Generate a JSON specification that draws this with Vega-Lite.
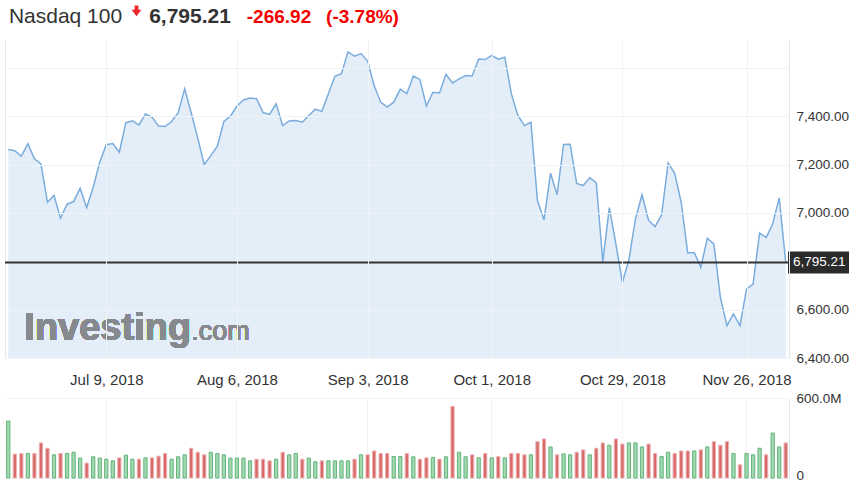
{
  "$schema": "https://vega.github.io/schema/vega-lite/v6.json",
  "padding": {"left": 4, "top": 0, "right": 0, "bottom": 0},
  "background": "white",
  "config": {
    "view": {"stroke": null},
    "font": "Liberation Sans",
    "axis": {"labelFont": "Liberation Sans", "labelFontSize": 13.5, "labelColor": "#333333", "title": null}
  },
  "datasets": {
    "px": [
      {"date":"2018-06-15","close":7262,"volume":427000000,"dir":"up"},
      {"date":"2018-06-18","close":7257,"volume":179000000,"dir":"down"},
      {"date":"2018-06-19","close":7235,"volume":184000000,"dir":"down"},
      {"date":"2018-06-20","close":7286,"volume":184000000,"dir":"up"},
      {"date":"2018-06-21","close":7224,"volume":184000000,"dir":"down"},
      {"date":"2018-06-22","close":7203,"volume":263000000,"dir":"down"},
      {"date":"2018-06-25","close":7044,"volume":223000000,"dir":"down"},
      {"date":"2018-06-26","close":7072,"volume":174000000,"dir":"up"},
      {"date":"2018-06-27","close":6978,"volume":184000000,"dir":"down"},
      {"date":"2018-06-28","close":7036,"volume":184000000,"dir":"up"},
      {"date":"2018-06-29","close":7047,"volume":193000000,"dir":"up"},
      {"date":"2018-07-02","close":7102,"volume":149000000,"dir":"up"},
      {"date":"2018-07-03","close":7022,"volume":112000000,"dir":"down"},
      {"date":"2018-07-05","close":7106,"volume":159000000,"dir":"up"},
      {"date":"2018-07-06","close":7210,"volume":149000000,"dir":"up"},
      {"date":"2018-07-09","close":7282,"volume":141000000,"dir":"up"},
      {"date":"2018-07-10","close":7287,"volume":129000000,"dir":"up"},
      {"date":"2018-07-11","close":7251,"volume":151000000,"dir":"down"},
      {"date":"2018-07-12","close":7373,"volume":171000000,"dir":"up"},
      {"date":"2018-07-13","close":7381,"volume":141000000,"dir":"up"},
      {"date":"2018-07-16","close":7364,"volume":141000000,"dir":"down"},
      {"date":"2018-07-17","close":7409,"volume":151000000,"dir":"up"},
      {"date":"2018-07-18","close":7396,"volume":151000000,"dir":"down"},
      {"date":"2018-07-19","close":7359,"volume":164000000,"dir":"down"},
      {"date":"2018-07-20","close":7357,"volume":184000000,"dir":"down"},
      {"date":"2018-07-23","close":7378,"volume":141000000,"dir":"up"},
      {"date":"2018-07-24","close":7413,"volume":159000000,"dir":"up"},
      {"date":"2018-07-25","close":7513,"volume":174000000,"dir":"up"},
      {"date":"2018-07-26","close":7414,"volume":223000000,"dir":"down"},
      {"date":"2018-07-27","close":7309,"volume":193000000,"dir":"down"},
      {"date":"2018-07-30","close":7199,"volume":174000000,"dir":"down"},
      {"date":"2018-07-31","close":7237,"volume":193000000,"dir":"up"},
      {"date":"2018-08-01","close":7276,"volume":184000000,"dir":"up"},
      {"date":"2018-08-02","close":7378,"volume":174000000,"dir":"up"},
      {"date":"2018-08-03","close":7400,"volume":149000000,"dir":"up"},
      {"date":"2018-08-06","close":7442,"volume":149000000,"dir":"up"},
      {"date":"2018-08-07","close":7467,"volume":149000000,"dir":"up"},
      {"date":"2018-08-08","close":7475,"volume":129000000,"dir":"up"},
      {"date":"2018-08-09","close":7472,"volume":141000000,"dir":"down"},
      {"date":"2018-08-10","close":7415,"volume":141000000,"dir":"down"},
      {"date":"2018-08-13","close":7407,"volume":129000000,"dir":"down"},
      {"date":"2018-08-14","close":7451,"volume":141000000,"dir":"up"},
      {"date":"2018-08-15","close":7361,"volume":193000000,"dir":"down"},
      {"date":"2018-08-16","close":7380,"volume":174000000,"dir":"up"},
      {"date":"2018-08-17","close":7382,"volume":184000000,"dir":"up"},
      {"date":"2018-08-20","close":7375,"volume":141000000,"dir":"down"},
      {"date":"2018-08-21","close":7403,"volume":149000000,"dir":"up"},
      {"date":"2018-08-22","close":7429,"volume":122000000,"dir":"up"},
      {"date":"2018-08-23","close":7420,"volume":129000000,"dir":"down"},
      {"date":"2018-08-24","close":7493,"volume":129000000,"dir":"up"},
      {"date":"2018-08-27","close":7565,"volume":129000000,"dir":"up"},
      {"date":"2018-08-28","close":7576,"volume":129000000,"dir":"up"},
      {"date":"2018-08-29","close":7666,"volume":129000000,"dir":"up"},
      {"date":"2018-08-30","close":7648,"volume":141000000,"dir":"down"},
      {"date":"2018-08-31","close":7659,"volume":174000000,"dir":"up"},
      {"date":"2018-09-04","close":7628,"volume":174000000,"dir":"down"},
      {"date":"2018-09-05","close":7527,"volume":203000000,"dir":"down"},
      {"date":"2018-09-06","close":7458,"volume":184000000,"dir":"down"},
      {"date":"2018-09-07","close":7438,"volume":184000000,"dir":"down"},
      {"date":"2018-09-10","close":7458,"volume":161000000,"dir":"up"},
      {"date":"2018-09-11","close":7512,"volume":161000000,"dir":"up"},
      {"date":"2018-09-12","close":7493,"volume":184000000,"dir":"down"},
      {"date":"2018-09-13","close":7566,"volume":159000000,"dir":"up"},
      {"date":"2018-09-14","close":7552,"volume":141000000,"dir":"down"},
      {"date":"2018-09-17","close":7442,"volume":151000000,"dir":"down"},
      {"date":"2018-09-18","close":7499,"volume":154000000,"dir":"up"},
      {"date":"2018-09-19","close":7496,"volume":141000000,"dir":"down"},
      {"date":"2018-09-20","close":7573,"volume":159000000,"dir":"up"},
      {"date":"2018-09-21","close":7537,"volume":538000000,"dir":"down"},
      {"date":"2018-09-24","close":7554,"volume":193000000,"dir":"up"},
      {"date":"2018-09-25","close":7568,"volume":159000000,"dir":"up"},
      {"date":"2018-09-26","close":7566,"volume":174000000,"dir":"down"},
      {"date":"2018-09-27","close":7636,"volume":151000000,"dir":"up"},
      {"date":"2018-09-28","close":7634,"volume":184000000,"dir":"down"},
      {"date":"2018-10-01","close":7651,"volume":151000000,"dir":"up"},
      {"date":"2018-10-02","close":7636,"volume":161000000,"dir":"down"},
      {"date":"2018-10-03","close":7644,"volume":151000000,"dir":"up"},
      {"date":"2018-10-04","close":7493,"volume":184000000,"dir":"down"},
      {"date":"2018-10-05","close":7403,"volume":184000000,"dir":"down"},
      {"date":"2018-10-08","close":7361,"volume":174000000,"dir":"down"},
      {"date":"2018-10-09","close":7375,"volume":174000000,"dir":"up"},
      {"date":"2018-10-10","close":7051,"volume":273000000,"dir":"down"},
      {"date":"2018-10-11","close":6971,"volume":293000000,"dir":"down"},
      {"date":"2018-10-12","close":7164,"volume":233000000,"dir":"up"},
      {"date":"2018-10-15","close":7075,"volume":174000000,"dir":"down"},
      {"date":"2018-10-16","close":7283,"volume":181000000,"dir":"up"},
      {"date":"2018-10-17","close":7284,"volume":174000000,"dir":"up"},
      {"date":"2018-10-18","close":7122,"volume":193000000,"dir":"down"},
      {"date":"2018-10-19","close":7113,"volume":211000000,"dir":"down"},
      {"date":"2018-10-22","close":7145,"volume":174000000,"dir":"up"},
      {"date":"2018-10-23","close":7125,"volume":223000000,"dir":"down"},
      {"date":"2018-10-24","close":6798,"volume":263000000,"dir":"down"},
      {"date":"2018-10-25","close":7022,"volume":246000000,"dir":"up"},
      {"date":"2018-10-26","close":6872,"volume":293000000,"dir":"down"},
      {"date":"2018-10-29","close":6712,"volume":255000000,"dir":"down"},
      {"date":"2018-10-30","close":6807,"volume":263000000,"dir":"up"},
      {"date":"2018-10-31","close":6975,"volume":263000000,"dir":"up"},
      {"date":"2018-11-01","close":7075,"volume":233000000,"dir":"up"},
      {"date":"2018-11-02","close":6970,"volume":255000000,"dir":"down"},
      {"date":"2018-11-05","close":6943,"volume":184000000,"dir":"down"},
      {"date":"2018-11-06","close":6992,"volume":161000000,"dir":"up"},
      {"date":"2018-11-07","close":7207,"volume":193000000,"dir":"up"},
      {"date":"2018-11-08","close":7164,"volume":184000000,"dir":"down"},
      {"date":"2018-11-09","close":7044,"volume":203000000,"dir":"down"},
      {"date":"2018-11-12","close":6834,"volume":203000000,"dir":"down"},
      {"date":"2018-11-13","close":6836,"volume":203000000,"dir":"up"},
      {"date":"2018-11-14","close":6775,"volume":211000000,"dir":"down"},
      {"date":"2018-11-15","close":6895,"volume":233000000,"dir":"up"},
      {"date":"2018-11-16","close":6872,"volume":273000000,"dir":"down"},
      {"date":"2018-11-19","close":6651,"volume":246000000,"dir":"down"},
      {"date":"2018-11-20","close":6534,"volume":273000000,"dir":"down"},
      {"date":"2018-11-21","close":6582,"volume":184000000,"dir":"up"},
      {"date":"2018-11-23","close":6534,"volume":99000000,"dir":"down"},
      {"date":"2018-11-26","close":6686,"volume":184000000,"dir":"up"},
      {"date":"2018-11-27","close":6706,"volume":174000000,"dir":"up"},
      {"date":"2018-11-28","close":6917,"volume":223000000,"dir":"up"},
      {"date":"2018-11-29","close":6898,"volume":174000000,"dir":"down"},
      {"date":"2018-11-30","close":6954,"volume":337000000,"dir":"up"},
      {"date":"2018-12-03","close":7062.13,"volume":233000000,"dir":"up"},
      {"date":"2018-12-04","close":6795.21,"volume":263000000,"dir":"down"}
    ]
  },
  "spacing": 4,
  "vconcat": [
    {
      "spacing": 0,
      "hconcat": [
        {"width": 121, "height": 36, "data": {"values": [{"t": "Nasdaq 100"}]},
         "mark": {"type": "text", "fontSize": 21, "color": "#333333", "baseline": "alphabetic", "dy": 5},
         "encoding": {"text": {"field": "t"}}},
        {"width": 21, "height": 36, "data": {"values": [{"t": "down"}]},
         "mark": {"type": "point", "shape": "M-0.35,-1L0.35,-1L0.35,-0.25L0.9,-0.25L0,0.95L-0.9,-0.25L-0.35,-0.25Z", "filled": true, "color": "#e8262b", "size": 120, "yOffset": -7, "opacity": 1},
         "encoding": {}},
        {"width": 86, "height": 36, "data": {"values": [{"t": "6,795.21"}]},
         "mark": {"type": "text", "fontSize": 21, "fontWeight": "bold", "color": "#333333", "baseline": "alphabetic", "dy": 5},
         "encoding": {"text": {"field": "t"}}},
        {"width": 92, "height": 36, "data": {"values": [{"t": "-266.92"}]},
         "mark": {"type": "text", "fontSize": 19, "fontWeight": "bold", "color": "#f20000", "baseline": "alphabetic", "dy": 5},
         "encoding": {"text": {"field": "t"}}},
        {"width": 75, "height": 36, "data": {"values": [{"t": "(-3.78%)"}]},
         "mark": {"type": "text", "fontSize": 19, "fontWeight": "bold", "color": "#f20000", "baseline": "alphabetic", "dy": 5},
         "encoding": {"text": {"field": "t"}}}
      ]
    },
    {
      "width": 784,
      "height": 318,
      "data": {"name": "px"},
      "resolve": {"axis": {"y": "independent"}},
      "layer": [
        {
          "mark": {"type": "area", "color": "#76a9db", "fillOpacity": 0.2},
          "encoding": {
            "x": {"field": "date", "type": "ordinal", "scale": {"type": "point", "padding": 0.5},
                  "axis": {"values": ["2018-07-09","2018-08-06","2018-09-04","2018-10-01","2018-10-29","2018-11-26"],
                           "labelExpr": "datum.value == '2018-09-04' ? 'Sep 3, 2018' : utcFormat(toDate(datum.value), '%b %-d, %Y')",
                           "labelAngle": 0, "labelFontSize": 15, "grid": true, "gridColor": "#f0f3f6", "ticks": false, "domain": false,
                           "labelPadding": 14, "zindex": 1}},
            "y": {"field": "close", "type": "quantitative", "scale": {"domain": [6400, 7715], "zero": false, "nice": false},
                  "axis": {"orient": "right", "values": [6400, 6600, 7000, 7200, 7400, 7600],
                           "labelExpr": "datum.value == 7600 ? '' : format(datum.value, ',.2f')",
                           "grid": true, "gridColor": "#f0f3f6", "ticks": false, "domain": true, "domainColor": "#e2e8ee",
                           "labelPadding": 7, "zindex": 1}},
            "y2": {"datum": 6400}
          }
        },
        {
          "mark": {"type": "text", "text": "Investing", "fontSize": 38, "fontWeight": "bold", "color": "#868a8e", "align": "left", "baseline": "alphabetic", "dx": 3},
          "encoding": {"x": {"datum": "2018-06-19", "type": "ordinal"}, "y": {"datum": 6475, "type": "quantitative", "axis": null}}
        },
        {
          "mark": {"type": "text", "text": ".com", "fontSize": 27, "color": "#868a8e", "align": "left", "baseline": "alphabetic"},
          "encoding": {"x": {"datum": "2018-07-26", "type": "ordinal"}, "y": {"datum": 6475, "type": "quantitative", "axis": null}}
        },
        {
          "mark": {"type": "line", "color": "#7aacdd", "strokeWidth": 1.5},
          "encoding": {
            "x": {"field": "date", "type": "ordinal"},
            "y": {"field": "close", "type": "quantitative", "axis": null}
          }
        },
        {
          "transform": [{"filter": {"field": "date", "equal": "2018-12-04"}}],
          "mark": {"type": "rule", "color": "#333333", "strokeWidth": 2},
          "encoding": {
            "y": {"field": "close", "type": "quantitative",
                  "axis": {"orient": "left", "labels": false, "ticks": false, "grid": false, "domain": true, "domainColor": "#e2e8ee"}}
          }
        },
        {
          "transform": [{"filter": {"field": "date", "equal": "2018-12-04"}}],
          "mark": {"type": "rect", "color": "#2b2b2b", "xOffset": -1, "x2Offset": 60, "yOffset": -11, "y2Offset": 11},
          "encoding": {
            "x": {"value": "width"}, "x2": {"value": "width"},
            "y": {"field": "close", "type": "quantitative", "axis": null},
            "y2": {"field": "close"}
          }
        },
        {
          "transform": [{"filter": {"field": "date", "equal": "2018-12-04"}}],
          "mark": {"type": "text", "align": "left", "baseline": "middle", "dx": 4, "color": "white", "fontSize": 13.5},
          "encoding": {
            "x": {"value": "width"},
            "y": {"field": "close", "type": "quantitative", "axis": null},
            "text": {"field": "close", "type": "quantitative", "format": ",.2f"}
          }
        }
      ]
    },
    {
      "width": 784,
      "height": 80,
      "data": {"name": "px"},
      "mark": {"type": "bar", "strokeWidth": 1},
      "encoding": {
        "x": {"field": "date", "type": "ordinal", "scale": {"type": "band", "paddingInner": 0.5, "paddingOuter": 0.25},
              "axis": {"values": ["2018-07-09","2018-08-06","2018-09-04","2018-10-01","2018-10-29","2018-11-26"],
                       "labels": false, "grid": true, "gridColor": "#f0f3f6", "ticks": false, "domain": false}},
        "y": {"field": "volume", "type": "quantitative", "scale": {"domain": [0, 600000000]},
              "axis": {"orient": "right", "values": [0, 600000000],
                       "labelExpr": "datum.value == 0 ? '0' : format(datum.value / 1000000, '.1f') + 'M'",
                       "labelOffset": {"condition": {"test": "datum.value == 0", "value": -3}, "value": 0},
                       "grid": true, "gridColor": "#f0f3f6", "ticks": false, "domain": true, "domainColor": "#e2e8ee",
                       "labelPadding": 7}},
        "fill": {"field": "dir", "type": "nominal", "scale": {"domain": ["up", "down"], "range": ["#a2d8b0", "#d96868"]}, "legend": null},
        "stroke": {"field": "dir", "type": "nominal", "scale": {"domain": ["up", "down"], "range": ["#62b47a", "#ecb3b3"]}, "legend": null}
      }
    }
  ]
}
